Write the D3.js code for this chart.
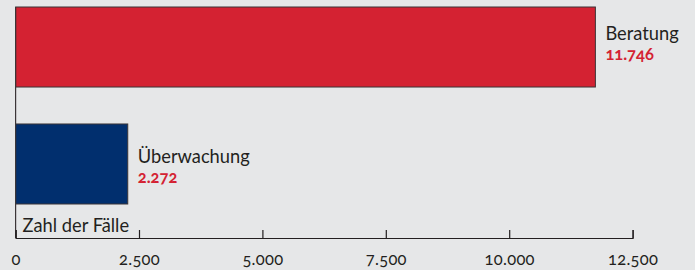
<!DOCTYPE html>
<html>
<head>
<meta charset="utf-8">
<script src="https://cdn.jsdelivr.net/npm/d3@7"></script>
<style>
  body { margin: 0; background: #e6e7e8; }
  svg { display: block; font-family: Lato, "Open Sans", sans-serif; }
  .tick text { font-variant-numeric: oldstyle-nums; }
</style>
</head>
<body>
<div id="chart"></div>
<script>
// data
var categories = ["Beratung", "Überwachung"];
var values = [11746, 2272];
var barColors = ["#d42232", "#012f6e"];
var tickValues = [0, 2500, 5000, 7500, 10000, 12500];
var axisTitle = "Zahl der Fälle";

var width = 695, height = 270;
var fmt = d3.formatLocale({ decimal: ",", thousands: ".", grouping: [3], currency: ["", "€"] }).format(",d");

var svg = d3.select("#chart").append("svg")
  .attr("width", width)
  .attr("height", height);

svg.append("rect").attr("width", width).attr("height", height).attr("fill", "#e6e7e8");

var x = d3.scaleLinear().domain([0, 12500]).range([15.6, 632.6]);
var y = d3.scaleBand().domain(categories).range([7, 204]).paddingInner(0.316).paddingOuter(0);

var axisY = 238;

// bars
svg.selectAll("rect.bar")
  .data(values)
  .enter()
  .append("rect")
  .attr("class", "bar")
  .attr("x", x(0))
  .attr("y", function (d, i) { return y(categories[i]); })
  .attr("width", function (d) { return x(d) - x(0); })
  .attr("height", y.bandwidth())
  .attr("fill", function (d, i) { return barColors[i]; })
  .attr("stroke", "#3b3537")
  .attr("stroke-width", 1);

// vertical axis line
svg.append("line")
  .attr("x1", x(0)).attr("x2", x(0))
  .attr("y1", y(categories[0])).attr("y2", axisY)
  .attr("stroke", "#3b3537").attr("stroke-width", 1.2);

// x axis, ticks pointing up
var xAxis = d3.axisTop(x)
  .tickValues(tickValues)
  .tickSize(8)
  .tickFormat(fmt);

var gx = svg.append("g")
  .attr("transform", "translate(0," + axisY + ")")
  .call(xAxis)
  .attr("font-family", "Lato, 'Open Sans', sans-serif");
gx.select(".domain").attr("stroke", "#231f20").attr("stroke-width", 1.2);
gx.selectAll(".tick line").attr("stroke", "#231f20").attr("stroke-width", 1.2);
gx.selectAll(".tick text")
  .attr("y", 0)
  .attr("dy", 0)
  .attr("transform", "translate(0,27)")
  .attr("fill", "#231f20")
  .attr("font-size", 16.5)
  .style("letter-spacing", "0.3px");

// axis title
svg.append("text")
  .attr("x", x(0) + 7)
  .attr("y", 232)
  .attr("font-size", 18.3)
  .attr("fill", "#231f20")
  .text(axisTitle);

// labels, roughly centred on the bar (first one sits a bit higher)
var labels = svg.selectAll("g.label")
  .data(values)
  .enter()
  .append("g")
  .attr("class", "label")
  .attr("transform", function (d, i) {
    var mid = y(categories[i]) + y.bandwidth() / 2;
    return "translate(" + (x(d) + 10) + "," + (mid - (i === 0 ? 7 : 1)) + ")";
  });

labels.append("text")
  .attr("font-size", 18.3)
  .attr("fill", "#231f20")
  .text(function (d, i) { return categories[i]; });

labels.append("text")
  .attr("y", 20)
  .attr("font-size", 16.5)
  .attr("font-weight", "bold")
  .attr("fill", "#d42232")
  .style("font-variant-numeric", "oldstyle-nums")
  .text(function (d) { return fmt(d); });
</script>
</body>
</html>
